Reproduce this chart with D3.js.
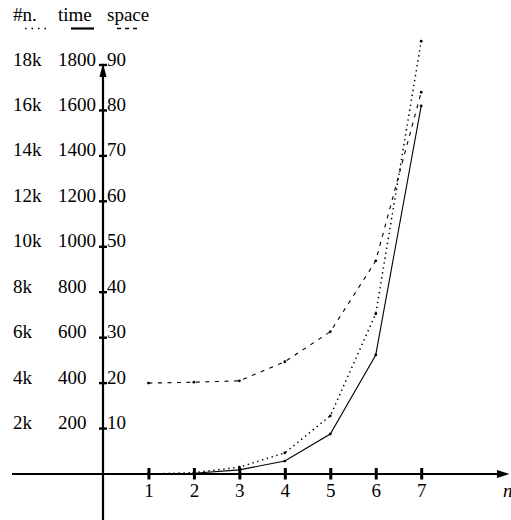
<!DOCTYPE html>
<html>
<head>
<meta charset="utf-8">
<script src="https://cdn.jsdelivr.net/npm/d3@7"></script>
<style>
  body { margin: 0; background: #fff; }
  text { font-family: "Liberation Serif", serif; font-size: 19px; fill: #000; }
</style>
</head>
<body>
<div id="chart"></div>
<script>
  // data
  let nValues = [1, 2, 3, 4, 5, 6, 7];
  let nodes = [0, 60, 300, 930, 2560, 7050, 19050];
  let time = [0, 3, 18, 57, 176, 524, 1620];
  let space = [20.0, 20.2, 20.5, 24.7, 31.3, 46.9, 84.0];

  // tick values for each column (same positions, different units)
  let nodeTicks = [2000, 4000, 6000, 8000, 10000, 12000, 14000, 16000, 18000];
  let timeTicks = [200, 400, 600, 800, 1000, 1200, 1400, 1600, 1800];
  let spaceTicks = [10, 20, 30, 40, 50, 60, 70, 80, 90];

  let width = 511, height = 520;

  let svg = d3.select('#chart').append('svg')
    .attr('width', width).attr('height', height);

  let x = d3.scaleLinear().domain([0, 7]).range([103, 421.2]);
  let ySpace = d3.scaleLinear().domain([0, 90]).range([474, 65]);
  let yTime = d3.scaleLinear().domain([0, 1800]).range(ySpace.range());
  let yNodes = d3.scaleLinear().domain([0, 18000]).range(ySpace.range());

  let x0 = x(0), y0 = ySpace(0);

  // x axis with arrow
  svg.append('line').attr('x1', 12).attr('x2', 500).attr('y1', y0).attr('y2', y0)
    .attr('stroke', '#000').attr('stroke-width', 2.2);
  svg.append('path').attr('d', `M509.5,${y0} L497,${y0 - 4} L497,${y0 + 4} Z`);

  // y axis with arrow
  svg.append('line').attr('x1', x0).attr('x2', x0).attr('y1', 520).attr('y2', 72)
    .attr('stroke', '#000').attr('stroke-width', 2.2);
  svg.append('path').attr('d', `M${x0},63 L${x0 - 3.5},77 L${x0 + 3.5},77 Z`);

  let xAxis = svg.append('g').attr('transform', `translate(0,${y0})`)
    .call(d3.axisBottom(x).tickValues(nValues).tickFormat(d3.format('d')));
  xAxis.select('.domain').remove();
  xAxis.selectAll('.tick line').attr('y1', -6).attr('y2', 5.5)
    .attr('stroke-width', 3);
  xAxis.selectAll('.tick text').attr('y', 22.5).attr('dy', null)
    .style('font-family', '"Liberation Serif", serif').style('font-size', '19px');

  svg.append('text').attr('x', 503).attr('y', 497)
    .style('font-style', 'italic').text('n');

  // y ticks
  svg.selectAll('.ytick').data(spaceTicks).enter().append('line')
    .attr('x1', x0 - 4).attr('x2', x0 + 4)
    .attr('y1', d => ySpace(d)).attr('y2', d => ySpace(d))
    .attr('stroke', '#000').attr('stroke-width', 2.4);

  // three columns of tick labels
  let kFmt = d3.format('~s');
  svg.selectAll('.lbl-n').data(nodeTicks).enter().append('text')
    .attr('x', 13).attr('y', d => yNodes(d) + 0.5).text(d => kFmt(d));
  svg.selectAll('.lbl-t').data(timeTicks).enter().append('text')
    .attr('x', 58).attr('y', d => yTime(d) + 0.5).text(d => d);
  svg.selectAll('.lbl-s').data(spaceTicks).enter().append('text')
    .attr('x', 107).attr('y', d => ySpace(d) + 0.5).text(d => d);

  // series
  let series = [
    { name: '#n.', values: nodes, y: yNodes, dash: '1.4,3.6', w: 1.5, lx: 13, sx: [25, 48] },
    { name: 'time', values: time, y: yTime, dash: null, w: 1.1, lx: 58, sx: [71, 94] },
    { name: 'space', values: space, y: ySpace, dash: '4,5.5', w: 1.1, lx: 107, sx: [117, 139] }
  ];

  series.forEach(s => {
    let line = d3.line().x((d, i) => x(nValues[i])).y(d => s.y(d));
    svg.append('path').datum(s.values)
      .attr('d', line).attr('fill', 'none').attr('stroke', '#000')
      .attr('stroke-width', s.w).attr('stroke-dasharray', s.dash);
    svg.append('g').selectAll('circle').data(s.values).enter().append('circle')
      .attr('cx', (d, i) => x(nValues[i])).attr('cy', d => s.y(d)).attr('r', 1.4);

    // legend header
    svg.append('text').attr('x', s.lx).attr('y', 21).text(s.name);
    svg.append('line').attr('x1', s.sx[0]).attr('x2', s.sx[1])
      .attr('y1', 28.5).attr('y2', 28.5).attr('stroke', '#000')
      .attr('stroke-width', s.dash ? 1.5 : 2.2)
      .attr('stroke-dasharray', s.dash ? (s.name === '#n.' ? '1.5,5' : '4,4') : null);
  });
</script>
</body>
</html>
